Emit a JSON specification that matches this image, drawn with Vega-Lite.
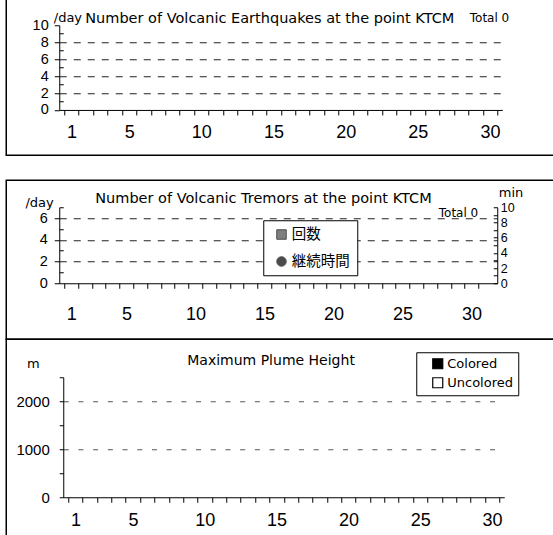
{
  "$schema": "https://vega.github.io/schema/vega-lite/v6.json",
  "background": "white",
  "autosize": {"type": "pad"},
  "padding": {"left": 5.25, "top": -1.75, "right": 0, "bottom": 0},
  "datasets": {
    "quakes": [
      {"day":1,"count":0},{"day":2,"count":0},{"day":3,"count":0},{"day":4,"count":0},{"day":5,"count":0},
      {"day":6,"count":0},{"day":7,"count":0},{"day":8,"count":0},{"day":9,"count":0},{"day":10,"count":0},
      {"day":11,"count":0},{"day":12,"count":0},{"day":13,"count":0},{"day":14,"count":0},{"day":15,"count":0},
      {"day":16,"count":0},{"day":17,"count":0},{"day":18,"count":0},{"day":19,"count":0},{"day":20,"count":0},
      {"day":21,"count":0},{"day":22,"count":0},{"day":23,"count":0},{"day":24,"count":0},{"day":25,"count":0},
      {"day":26,"count":0},{"day":27,"count":0},{"day":28,"count":0},{"day":29,"count":0},{"day":30,"count":0}
    ],
    "tremors": [
      {"day":1,"series":"回数","value":0},{"day":2,"series":"回数","value":0},{"day":3,"series":"回数","value":0},
      {"day":4,"series":"回数","value":0},{"day":5,"series":"回数","value":0},{"day":6,"series":"回数","value":0},
      {"day":7,"series":"回数","value":0},{"day":8,"series":"回数","value":0},{"day":9,"series":"回数","value":0},
      {"day":10,"series":"回数","value":0},{"day":11,"series":"回数","value":0},{"day":12,"series":"回数","value":0},
      {"day":13,"series":"回数","value":0},{"day":14,"series":"回数","value":0},{"day":15,"series":"回数","value":0},
      {"day":16,"series":"回数","value":0},{"day":17,"series":"回数","value":0},{"day":18,"series":"回数","value":0},
      {"day":19,"series":"回数","value":0},{"day":20,"series":"回数","value":0},{"day":21,"series":"回数","value":0},
      {"day":22,"series":"回数","value":0},{"day":23,"series":"回数","value":0},{"day":24,"series":"回数","value":0},
      {"day":25,"series":"回数","value":0},{"day":26,"series":"回数","value":0},{"day":27,"series":"回数","value":0},
      {"day":28,"series":"回数","value":0},{"day":29,"series":"回数","value":0},{"day":30,"series":"回数","value":0},
      {"day":1,"series":"継続時間","value":0},{"day":2,"series":"継続時間","value":0},{"day":3,"series":"継続時間","value":0},
      {"day":4,"series":"継続時間","value":0},{"day":5,"series":"継続時間","value":0},{"day":6,"series":"継続時間","value":0},
      {"day":7,"series":"継続時間","value":0},{"day":8,"series":"継続時間","value":0},{"day":9,"series":"継続時間","value":0},
      {"day":10,"series":"継続時間","value":0},{"day":11,"series":"継続時間","value":0},{"day":12,"series":"継続時間","value":0},
      {"day":13,"series":"継続時間","value":0},{"day":14,"series":"継続時間","value":0},{"day":15,"series":"継続時間","value":0},
      {"day":16,"series":"継続時間","value":0},{"day":17,"series":"継続時間","value":0},{"day":18,"series":"継続時間","value":0},
      {"day":19,"series":"継続時間","value":0},{"day":20,"series":"継続時間","value":0},{"day":21,"series":"継続時間","value":0},
      {"day":22,"series":"継続時間","value":0},{"day":23,"series":"継続時間","value":0},{"day":24,"series":"継続時間","value":0},
      {"day":25,"series":"継続時間","value":0},{"day":26,"series":"継続時間","value":0},{"day":27,"series":"継続時間","value":0},
      {"day":28,"series":"継続時間","value":0},{"day":29,"series":"継続時間","value":0},{"day":30,"series":"継続時間","value":0}
    ],
    "plume": [
      {"day":1,"height":0,"type":"Colored"},{"day":2,"height":0,"type":"Colored"},{"day":3,"height":0,"type":"Colored"},
      {"day":4,"height":0,"type":"Colored"},{"day":5,"height":0,"type":"Colored"},{"day":6,"height":0,"type":"Colored"},
      {"day":7,"height":0,"type":"Colored"},{"day":8,"height":0,"type":"Colored"},{"day":9,"height":0,"type":"Colored"},
      {"day":10,"height":0,"type":"Colored"},{"day":11,"height":0,"type":"Colored"},{"day":12,"height":0,"type":"Colored"},
      {"day":13,"height":0,"type":"Colored"},{"day":14,"height":0,"type":"Colored"},{"day":15,"height":0,"type":"Colored"},
      {"day":16,"height":0,"type":"Colored"},{"day":17,"height":0,"type":"Colored"},{"day":18,"height":0,"type":"Colored"},
      {"day":19,"height":0,"type":"Colored"},{"day":20,"height":0,"type":"Colored"},{"day":21,"height":0,"type":"Colored"},
      {"day":22,"height":0,"type":"Colored"},{"day":23,"height":0,"type":"Colored"},{"day":24,"height":0,"type":"Colored"},
      {"day":25,"height":0,"type":"Colored"},{"day":26,"height":0,"type":"Colored"},{"day":27,"height":0,"type":"Colored"},
      {"day":28,"height":0,"type":"Colored"},{"day":29,"height":0,"type":"Colored"},{"day":30,"height":0,"type":"Colored"}
    ]
  },
  "spacing": 25,
  "bounds": "flush",
  "resolve": {"scale": {"color": "independent", "shape": "independent"}, "legend": {"color": "independent", "shape": "independent"}},
  "vconcat": [
    {
      "width": 560,
      "height": 156,
      "data": {"name": "quakes"},
      "title": {"text": "Number of Volcanic Earthquakes at the point KTCM", "anchor": "start", "frame": "group", "orient": "top", "dx": 79, "offset": -38, "baseline": "alphabetic", "font": "DejaVu Sans", "fontSize": 14.5, "fontWeight": "normal", "color": "black"},
      "mark": {"type": "bar", "color": "#555"},
      "encoding": {
        "x": {
          "field": "day", "type": "quantitative",
          "scale": {"domain": [0.5, 30.5], "range": [53, 496], "nice": false, "zero": false},
          "axis": {
            "values": [0.5,1,1.5,2,2.5,3,3.5,4,4.5,5,5.5,6,6.5,7,7.5,8,8.5,9,9.5,10,10.5,11,11.5,12,12.5,13,13.5,14,14.5,15,15.5,16,16.5,17,17.5,18,18.5,19,19.5,20,20.5,21,21.5,22,22.5,23,23.5,24,24.5,25,25.5,26,26.5,27,27.5,28,28.5,29,29.5,30,30.5],
            "offset": -45.3,
            "grid": false,
            "tickSize": 5,
            "tickOpacity": {"condition": {"test": "datum.value % 1 === 0", "value": 0}, "value": 1},
            "labelExpr": "indexof([1,5,10,15,20,25,30], datum.value) >= 0 ? '' + datum.value : ''",
            "labelOverlap": false, "labelFlush": false, "labelBound": false,
            "labelFont": "Liberation Sans Narrow, Liberation Sans", "labelFontSize": 18, "labelBaseline": "middle", "labelPadding": 18,
            "title": "Total 0", "titleX": 463, "titleY": -92.2, "titleAlign": "left", "titleBaseline": "middle", "titleAngle": 0,
            "titleFont": "DejaVu Sans", "titleFontSize": 12, "titleFontWeight": "normal"
          }
        },
        "y": {
          "field": "count", "type": "quantitative",
          "scale": {"domain": [0, 10], "range": [110.7, 26], "nice": false},
          "axis": {
            "values": [0,1,2,3,4,5,6,7,8,9,10],
            "offset": -53,
            "tickSize": {"condition": {"test": "datum.value % 2 === 1", "value": -4}, "value": 5},
            "labelExpr": "datum.value % 2 === 0 ? '' + datum.value : ''",
            "labelFont": "Liberation Sans", "labelFontSize": 14.5, "labelPadding": 6,
            "grid": true, "gridDash": [7, 7], "gridColor": "#222",
            "gridOpacity": {"condition": {"test": "datum.value > 0 && datum.value < 10 && datum.value % 2 === 0", "value": 1}, "value": 0},
            "title": "/day", "titleAngle": 0, "titleX": -6, "titleY": 18, "titleAlign": "left", "titleBaseline": "middle",
            "titleFont": "DejaVu Sans", "titleFontSize": 13, "titleFontWeight": "normal"
          }
        }
      }
    },
    {
      "spacing": 0,
      "bounds": "flush",
      "resolve": {"scale": {"color": "independent", "shape": "independent"}, "legend": {"color": "independent", "shape": "independent"}},
      "vconcat": [
        {
          "width": 560,
          "height": 159,
          "data": {"name": "tremors"},
          "title": {"text": "Number of Volcanic Tremors at the point KTCM", "anchor": "start", "frame": "group", "orient": "top", "dx": 89, "offset": -37, "baseline": "alphabetic", "font": "DejaVu Sans", "fontSize": 14.5, "fontWeight": "normal", "color": "black"},
          "encoding": {
            "x": {
              "field": "day", "type": "quantitative",
              "scale": {"domain": [0.5, 31.5], "range": [53, 491], "nice": false, "zero": false},
              "axis": {
                "values": [0.5,1,1.5,2,2.5,3,3.5,4,4.5,5,5.5,6,6.5,7,7.5,8,8.5,9,9.5,10,10.5,11,11.5,12,12.5,13,13.5,14,14.5,15,15.5,16,16.5,17,17.5,18,18.5,19,19.5,20,20.5,21,21.5,22,22.5,23,23.5,24,24.5,25,25.5,26,26.5,27,27.5,28,28.5,29,29.5,30,30.5],
                "offset": -56,
                "grid": false,
                "tickSize": 5,
                "tickOpacity": {"condition": {"test": "datum.value % 1 === 0", "value": 0}, "value": 1},
                "labelExpr": "indexof([1,5,10,15,20,25,30], datum.value) >= 0 ? '' + datum.value : ''",
                "labelOverlap": false, "labelFlush": false, "labelBound": false,
                "labelFont": "Liberation Sans Narrow, Liberation Sans", "labelFontSize": 18, "labelBaseline": "middle", "labelPadding": 26,
                "title": "Total 0", "titleX": 432, "titleY": -71, "titleAlign": "left", "titleBaseline": "middle", "titleAngle": 0,
                "titleFont": "DejaVu Sans", "titleFontSize": 12, "titleFontWeight": "normal"
              }
            }
          },
          "layer": [
            {
              "transform": [{"filter": "datum.series === '回数'"}],
              "mark": {"type": "bar", "color": "#555"},
              "encoding": {
                "y": {
                  "field": "value", "type": "quantitative",
                  "scale": {"domain": [0, 7], "range": [103, 27], "nice": false},
                  "axis": {
                    "values": [0,1,2,3,4,5,6,7],
                    "offset": -53,
                    "tickSize": {"condition": {"test": "datum.value % 2 === 1", "value": -4}, "value": 5},
                    "labelExpr": "datum.value % 2 === 0 ? '' + datum.value : ''",
                    "labelFont": "Liberation Sans", "labelFontSize": 14.5, "labelPadding": 7,
                    "grid": true, "gridDash": [7, 7], "gridColor": "#222",
                    "gridOpacity": {"condition": {"test": "datum.value > 0 && datum.value < 7 && datum.value % 2 === 0", "value": 1}, "value": 0},
                    "title": "/day", "titleAngle": 0, "titleX": -6, "titleY": 22, "titleAlign": "right", "titleBaseline": "middle",
                    "titleFont": "DejaVu Sans", "titleFontSize": 13, "titleFontWeight": "normal"
                  }
                }
              }
            },
            {
              "transform": [{"filter": "datum.series === '継続時間' && datum.value > 0"}],
              "mark": {"type": "point", "filled": true, "size": 60},
              "encoding": {
                "y": {
                  "field": "value", "type": "quantitative",
                  "scale": {"domain": [0, 10], "range": [103, 27], "nice": false},
                  "axis": {
                    "orient": "right",
                    "values": [0,1,2,3,4,5,6,7,8,9,10],
                    "offset": -69,
                    "grid": false,
                    "tickSize": -4,
                    "labelExpr": "datum.value % 2 === 0 ? '' + datum.value : ''",
                    "labelFont": "Liberation Sans", "labelFontSize": 12.5, "labelPadding": 7,
                    "title": "min", "titleAngle": 0, "titleX": 1, "titleY": 12, "titleAlign": "left", "titleBaseline": "middle",
                    "titleFont": "DejaVu Sans", "titleFontSize": 13, "titleFontWeight": "normal"
                  }
                },
                "color": {
                  "field": "series", "type": "nominal",
                  "scale": {"domain": ["回数", "継続時間"], "range": ["#4a4a4a", "#000000"]},
                  "legend": {"orient": "none", "legendX": 257, "legendY": 40, "title": null, "fillColor": "white", "strokeColor": "black", "padding": 7, "symbolOffset": 4, "rowPadding": 12, "labelOffset": 3, "labelFont": "Noto Sans CJK JP", "labelFontSize": 14.5, "labelColor": "black", "symbolSize": 90, "symbolStrokeColor": "black", "symbolStrokeWidth": 1}
                },
                "shape": {
                  "field": "series", "type": "nominal",
                  "scale": {"domain": ["回数", "継続時間"], "range": ["square", "circle"]},
                  "legend": {"orient": "none", "legendX": 257, "legendY": 40, "title": null, "fillColor": "white", "strokeColor": "black", "padding": 7, "symbolOffset": 4, "rowPadding": 12, "labelOffset": 3, "labelFont": "Noto Sans CJK JP", "labelFontSize": 14.5, "labelColor": "black", "symbolSize": 90, "symbolStrokeColor": "black", "symbolStrokeWidth": 1}
                }
              }
            }
          ],
          "resolve": {"scale": {"y": "independent"}}
        },
        {
          "width": 560,
          "height": 200,
          "data": {"name": "plume"},
          "title": {"text": "Maximum Plume Height", "anchor": "start", "frame": "group", "orient": "top", "dx": 181, "offset": -40, "baseline": "alphabetic", "font": "DejaVu Sans", "fontSize": 14, "fontWeight": "normal", "color": "black"},
          "mark": {"type": "bar"},
          "encoding": {
            "x": {
              "field": "day", "type": "quantitative",
              "scale": {"domain": [0.5, 30.5], "range": [57, 498], "nice": false, "zero": false},
              "axis": {
                "values": [0.5,1,1.5,2,2.5,3,3.5,4,4.5,5,5.5,6,6.5,7,7.5,8,8.5,9,9.5,10,10.5,11,11.5,12,12.5,13,13.5,14,14.5,15,15.5,16,16.5,17,17.5,18,18.5,19,19.5,20,20.5,21,21.5,22,22.5,23,23.5,24,24.5,25,25.5,26,26.5,27,27.5,28,28.5,29,29.5,30,30.5],
                "offset": -42,
                "grid": false,
                "tickSize": 5,
                "tickOpacity": {"condition": {"test": "datum.value % 1 === 0", "value": 0}, "value": 1},
                "labelExpr": "indexof([1,5,10,15,20,25,30], datum.value) >= 0 ? '' + datum.value : ''",
                "labelOverlap": false, "labelFlush": false, "labelBound": false,
                "labelFont": "Liberation Sans Narrow, Liberation Sans", "labelFontSize": 18, "labelBaseline": "middle", "labelPadding": 18,
                "title": null
              }
            },
            "y": {
              "field": "height", "type": "quantitative",
              "scale": {"domain": [0, 2500], "range": [158, 38], "nice": false},
              "axis": {
                "values": [0,500,1000,1500,2000,2500],
                "offset": -57,
                "tickSize": 4,
                "labelExpr": "datum.value % 1000 === 0 ? '' + datum.value : ''",
                "labelFont": "Liberation Sans", "labelFontSize": 15, "labelPadding": 10,
                "grid": true, "gridDash": [5, 9.7], "gridColor": "#555",
                "gridOpacity": {"condition": {"test": "datum.value === 1000 || datum.value === 2000", "value": 1}, "value": 0},
                "title": "m", "titleAngle": 0, "titleX": -30.5, "titleY": 24, "titleAlign": "center", "titleBaseline": "middle",
                "titleFont": "DejaVu Sans", "titleFontSize": 13, "titleFontWeight": "normal"
              }
            },
            "color": {
              "field": "type", "type": "nominal",
              "scale": {"domain": ["Colored", "Uncolored"], "range": ["black", "white"]},
              "legend": {"orient": "none", "legendX": 410, "legendY": 13, "title": null, "fillColor": "white", "strokeColor": "black", "padding": 5, "symbolOffset": 10, "rowPadding": 4, "labelOffset": 3, "labelFont": "DejaVu Sans", "labelFontSize": 13, "labelColor": "black", "symbolType": "square", "symbolSize": 100, "symbolStrokeColor": "black", "symbolStrokeWidth": 1.2}
            }
          }
        }
      ]
    }
  ],
  "config": {
    "view": {"stroke": "black", "strokeWidth": 1.5},
    "axis": {"domainColor": "black", "tickColor": "black", "labelColor": "black", "titleColor": "black", "domainWidth": 1, "tickWidth": 1},
    "title": {"fontWeight": "normal"}
  }
}
